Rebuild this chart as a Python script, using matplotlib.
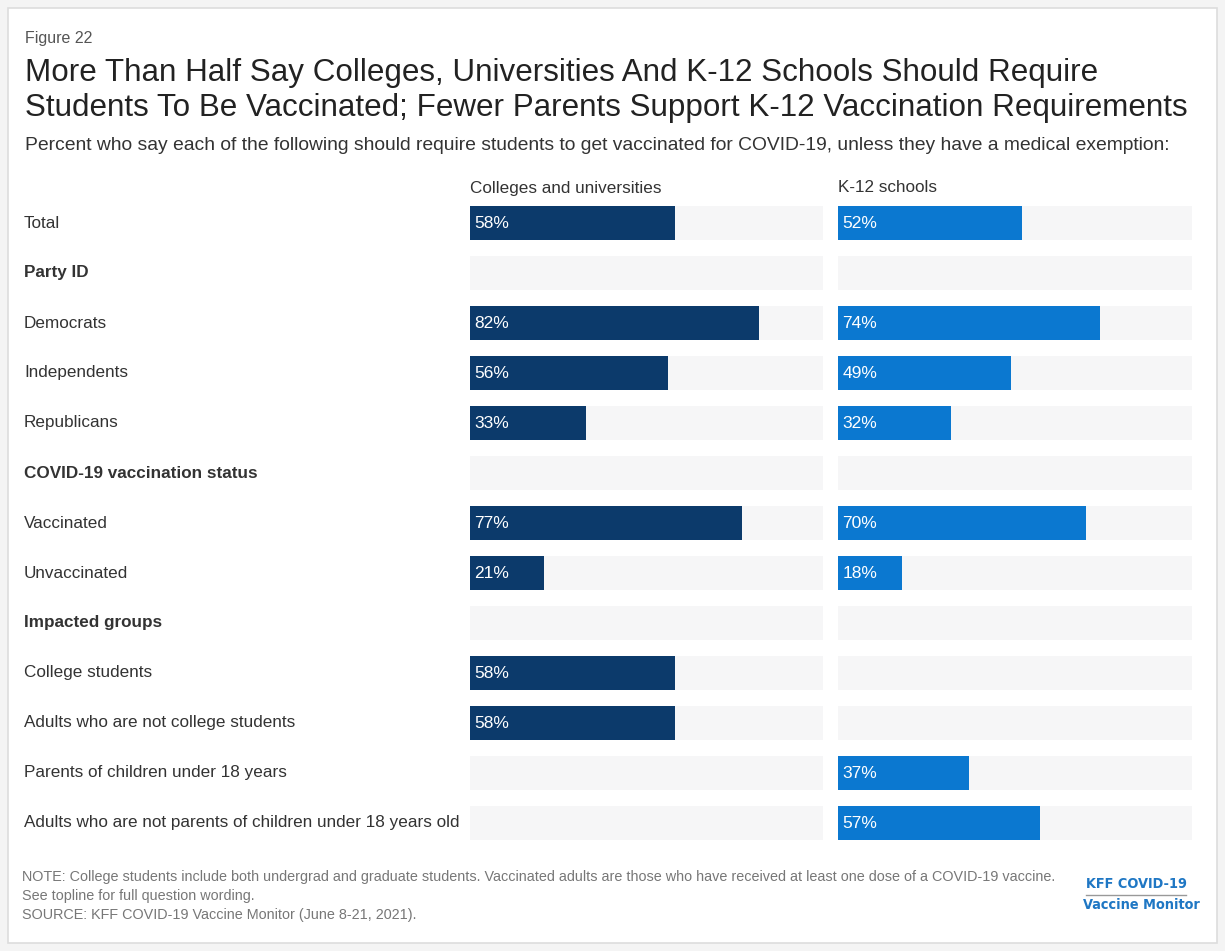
import matplotlib.pyplot as plt
from matplotlib.patches import Rectangle
from matplotlib.transforms import blended_transform_factory

plt.rcParams['font.family'] = ['Liberation Sans', 'DejaVu Sans']

# ----------------------------------------------------
# Data
# ----------------------------------------------------
rows = [
    "Total",
    "Party ID",
    "Democrats",
    "Independents",
    "Republicans",
    "COVID-19 vaccination status",
    "Vaccinated",
    "Unvaccinated",
    "Impacted groups",
    "College students",
    "Adults who are not college students",
    "Parents of children under 18 years",
    "Adults who are not parents of children under 18 years old",
]
headers = ["Party ID", "COVID-19 vaccination status", "Impacted groups"]

colleges = [58, None, 82, 56, 33, None, 77, 21, None, 58, 58, None, None]
k12 = [52, None, 74, 49, 32, None, 70, 18, None, None, None, 37, 57]

panel_titles = ["Colleges and universities", "K-12 schools"]

dark_blue = "#0c3a6b"
bright_blue = "#0b78d0"
track = "#f6f6f7"

W, H = 1225, 951
fig = plt.figure(figsize=(W / 100, H / 100), dpi=100)
fig.patch.set_facecolor("#f4f4f4")

# white card behind everything
fig.patches.append(Rectangle((8 / W, 8 / H), (W - 16) / W, (H - 16) / H,
                             transform=fig.transFigure, facecolor="white",
                             edgecolor="#dddddd", linewidth=1.2, zorder=-5))


def px_axes(x0, x1, y0, y1):
    return fig.add_axes([x0 / W, 1 - y1 / H, (x1 - x0) / W, (y1 - y0) / H])


n = len(rows)
ypos = list(range(n))
axes = [px_axes(470, 823, 198, 848), px_axes(838, 1192, 198, 848)]

for ax, vals, color, ttl in zip(axes, [colleges, k12],
                                [dark_blue, bright_blue], panel_titles):
    ax.set_zorder(2)
    ax.barh(ypos, [100] * n, height=0.68, color=track, zorder=1)
    for y, v in zip(ypos, vals):
        if v is None:
            continue
        ax.barh(y, v, height=0.68, color=color, zorder=2)
        ax.text(1.2, y, f"{v}%", color="white", fontsize=12.5,
                va="center", ha="left", zorder=3)
    ax.set_xlim(0, 100)
    ax.set_ylim(n - 0.5, -0.5)
    ax.axis("off")
    ax.text(0, -0.55, ttl, fontsize=12.3, color="#333333", va="bottom", ha="left")

# row labels
trans = blended_transform_factory(fig.transFigure, axes[0].transData)
for y, label in zip(ypos, rows):
    axes[0].text(24 / W, y, label, transform=trans, fontsize=12.3,
                 color="#333333", va="center", ha="left",
                 fontweight="bold" if label in headers else "normal")

# titles
fig.text(25 / W, 1 - 38 / H, "Figure 22", fontsize=11.5, color="#555555", va="center")
fig.text(25 / W, 1 - 73 / H,
         "More Than Half Say Colleges, Universities And K-12 Schools Should Require",
         fontsize=22.6, color="#222222", va="center")
fig.text(25 / W, 1 - 108 / H,
         "Students To Be Vaccinated; Fewer Parents Support K-12 Vaccination Requirements",
         fontsize=22.6, color="#222222", va="center")
fig.text(25 / W, 1 - 146 / H,
         "Percent who say each of the following should require students to get "
         "vaccinated for COVID-19, unless they have a medical exemption:",
         fontsize=13.9, color="#333333", va="center")

# footer
note_lines = [
    "NOTE: College students include both undergrad and graduate students. Vaccinated "
    "adults are those who have received at least one dose of a COVID-19 vaccine.",
    "See topline for full question wording.",
    "SOURCE: KFF COVID-19 Vaccine Monitor (June 8-21, 2021).",
]
for i, line in enumerate(note_lines):
    fig.text(22 / W, 1 - (877 + 19 * i) / H, line, fontsize=10.4,
             color="#777777", va="center")

fig.text(1136 / W, 1 - 884 / H, "KFF COVID-19", fontsize=10.4, fontweight="bold",
         fontstretch="condensed", family="DejaVu Sans", color="#1f77c4",
         ha="center", va="center")
fig.add_artist(plt.Line2D([1086 / W, 1186 / W], [1 - 895 / H, 1 - 895 / H],
                          color="#999999", linewidth=1))
fig.text(1141 / W, 1 - 905 / H, "Vaccine Monitor", fontsize=10.4, fontweight="bold",
         fontstretch="condensed", family="DejaVu Sans", color="#1f77c4",
         ha="center", va="center")

fig.savefig("out.png", dpi=100)
